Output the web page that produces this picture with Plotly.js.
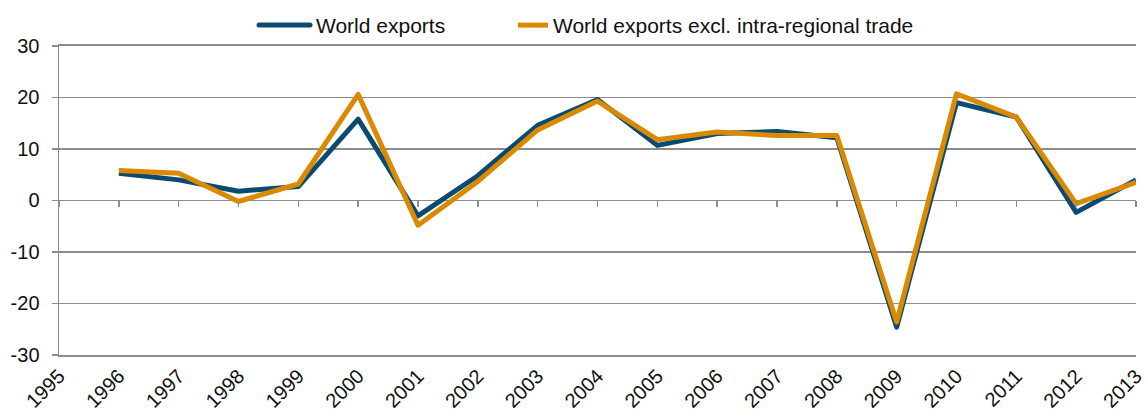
<!DOCTYPE html>
<html>
<head>
<meta charset="utf-8">
<script src="https://cdn.plot.ly/plotly-3.0.1.min.js"></script>
<style>
html,body{margin:0;padding:0;background:#fff;}
#chart{width:1146px;height:414px;}
.js-line{stroke-linejoin:round;}
</style>
</head>
<body>
<div id="chart"></div>
<script>
const years = [1996,1997,1998,1999,2000,2001,2002,2003,2004,2005,2006,2007,2008,2009,2010,2011,2012,2013];
const worldExports = [5.3,4.0,1.8,2.7,15.8,-3.0,4.8,14.6,19.6,10.7,13.0,13.4,12.2,-24.6,19.0,16.2,-2.3,4.0];
const worldExportsExclIntra = [5.8,5.3,-0.2,3.2,20.6,-4.8,3.7,13.7,19.3,11.8,13.3,12.6,12.6,-23.6,20.7,16.2,-0.6,3.5];
const xTickVals = [1995,1996,1997,1998,1999,2000,2001,2002,2003,2004,2005,2006,2007,2008,2009,2010,2011,2012,2013];
const xTickText = xTickVals.map(String);
const yTickVals = [-30,-20,-10,0,10,20,30];
const yTickText = ['-30','-20','-10','0','10','20','30'];

const blue = '#0B4A72';
const orange = '#D98A00';
const gray = '#8C8C8C';
const FONT = '"Liberation Sans", Arial, sans-serif';

const traces = [
  {x: years, y: worldExports, name: 'World exports', type: 'scatter', mode: 'lines',
   line: {color: blue, width: 5}, xaxis: 'x', yaxis: 'y', legend: 'legend'},
  {x: years, y: worldExportsExclIntra, name: 'World exports excl. intra-regional trade', type: 'scatter', mode: 'lines',
   line: {color: orange, width: 5}, xaxis: 'x2', yaxis: 'y', legend: 'legend2'}
];

const legendCommon = {orientation: 'h', xanchor: 'left', xref: 'container',
  y: 0.988, yanchor: 'top', yref: 'container',
  font: {family: FONT, size: 21, color: '#111'}, bgcolor: 'rgba(0,0,0,0)'};

const layout = {
  width: 1146, height: 414,
  margin: {l: 59, r: 10, t: 44, b: 59},
  paper_bgcolor: '#fff', plot_bgcolor: '#fff',
  font: {family: FONT, size: 20, color: '#111'},
  showlegend: true,
  legend: Object.assign({}, legendCommon, {x: 276 / 1146}),
  legend2: Object.assign({}, legendCommon, {x: 513 / 1146}),
  xaxis: {range: [1995, 2013], tickmode: 'array', tickvals: xTickVals, ticktext: xTickText,
          tickangle: -45, ticks: '', showgrid: false, zeroline: false,
          showline: true, mirror: true, linecolor: gray, linewidth: 1.5,
          tickfont: {family: FONT, size: 20, color: '#111'}},
  xaxis2: {range: [1995, 2013], overlaying: 'x', anchor: 'free', position: 0.5,
           tickmode: 'array', tickvals: xTickVals, ticks: 'outside', ticklen: 6, tickwidth: 1.5,
           tickcolor: gray, showticklabels: false, showgrid: false, zeroline: false, showline: false},
  yaxis: {range: [-30, 30], tickmode: 'array', tickvals: yTickVals, ticktext: yTickText,
          ticks: 'outside', ticklen: 6,
          tickwidth: 1.5, tickcolor: gray, showgrid: true, gridcolor: gray, gridwidth: 1.5,
          zeroline: true, zerolinecolor: gray, zerolinewidth: 1.5,
          showline: true, linecolor: gray, linewidth: 1.5, ticklabelstandoff: 8,
          tickfont: {family: FONT, size: 20, color: '#111'}}
};

Plotly.newPlot('chart', traces, layout, {displayModeBar: false, staticPlot: true}).then(function (gd) {
  // longer, round-capped legend swatches like the original; let them show outside the legend box
  gd.querySelectorAll('.legend [clip-path]').forEach(function (el) { el.removeAttribute('clip-path'); });
  gd.querySelectorAll('.legend').forEach(function (el) { el.removeAttribute('clip-path'); });
  gd.querySelectorAll('.legend .legendlines path').forEach(function (p) {
    p.setAttribute('d', 'M-17,0h51');
    p.style.strokeLinecap = 'round';
  });
});
</script>
</body>
</html>
